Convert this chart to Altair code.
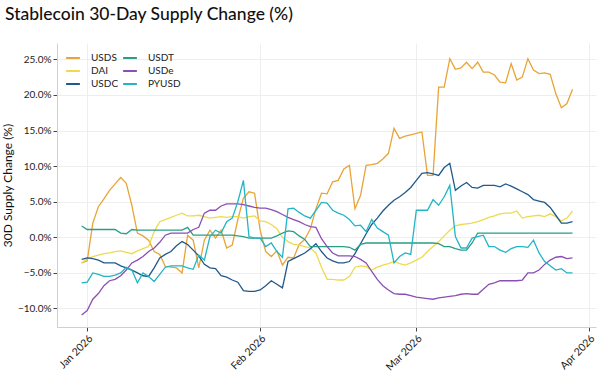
import altair as alt
import pandas as pd

start_date = "2025-12-31"
series_names = ["USDS", "DAI", "USDC", "USDT", "USDe", "PYUSD"]
series_colors = ["#E8A436", "#EEDA4E", "#21598C", "#2A9D86", "#8B4FB3", "#22B5C4"]
legend_order = ["USDS", "DAI", "USDC", "USDT", "USDe", "PYUSD"]

usds = [-3.6, -3.3, 2.0, 4.3, 5.4, 6.6, 7.5, 8.4, 7.6, 4.5, 0.6, 0.2, -0.4, -2.0, -2.4,
        -4.1, -4.2, -4.3, -5.0, 0.3, -0.4, -4.3, -0.4, 1.0, -0.1, 1.0, -1.5, -1.1, 2.5, 5.5,
        6.4, 6.2, 1.0, -2.0, -2.7, -1.9, -3.9, -2.8, -2.9, -1.0, -0.3, 1.2, 4.0, 6.2, 6.1,
        7.8, 8.0, 9.6, 10.1, 4.0, 5.9, 10.1, 10.2, 10.4, 11.0, 11.8, 15.3, 13.9, 14.2, 14.4,
        14.6, 14.8, 8.7, 8.7, 21.1, 21.1, 25.1, 23.6, 23.8, 24.6, 23.7, 24.6, 23.2, 23.2, 22.8,
        21.8, 21.7, 24.4, 22.1, 22.5, 25.1, 23.5, 23.0, 23.1, 22.9, 20.2, 18.2, 18.8, 20.8]

dai = [-3.6, -3.0, -2.7, -2.5, -2.3, -2.2, -2.0, -1.9, -2.1, -2.3, -1.9, -1.6, -1.3, 0.8, 2.2,
       2.5, 2.8, 3.1, 3.4, 3.0, 3.0, 3.1, 2.9, 2.7, 2.8, 2.9, 2.8, 2.9, 2.9, 2.7,
       2.9, 3.0, 2.3, 2.2, 1.8, 1.2, 0.0, -0.6, -1.0, -1.1, -1.3, -1.5, -2.2, -4.2, -5.9,
       -5.9, -6.0, -6.0, -5.5, -4.2, -4.0, -4.1, -4.6, -4.2, -3.9, -3.7, -3.4, -3.7, -3.9, -3.6,
       -3.2, -2.8, -2.0, -1.3, -0.6, 0.2, 1.0, 1.6, 1.8, 1.9, 2.0, 2.2, 2.5, 2.8, 3.0,
       3.3, 3.4, 3.4, 3.7, 2.7, 2.9, 3.0, 3.1, 2.9, 3.3, 2.9, 2.3, 2.7, 3.7]

usdc = [-3.1, -2.9, -3.0, -3.2, -3.6, -3.6, -3.6, -4.0, -4.3, -4.6, -5.0, -5.4, -5.5, -4.3, -2.9,
        -2.4, -2.0, -1.2, -0.6, -1.0, -1.8, -2.6, -3.8, -4.3, -4.4, -5.4, -5.6, -6.0, -6.3, -7.5,
        -7.6, -7.6, -7.4, -6.8, -6.1, -6.6, -7.1, -3.4, -3.0, -2.6, -2.2, -1.6, -0.9, -2.0, -2.9,
        -3.3, -3.6, -3.6, -3.4, -2.3, -0.9, 0.5, 1.8, 2.7, 3.7, 4.5, 5.2, 5.7, 6.3, 7.0,
        8.0, 9.0, 9.1, 8.9, 8.7, 9.8, 10.4, 6.6, 7.2, 7.7, 7.0, 6.9, 7.3, 7.3, 7.3,
        7.1, 7.5, 7.2, 6.8, 6.4, 6.0, 5.3, 5.1, 4.9, 4.2, 3.1, 2.0, 2.0, 2.2]

usdt = [1.6, 1.1, 1.1, 1.1, 1.1, 1.1, 1.1, 0.6, 0.5, 1.1, 1.0, 1.0, 1.0, 1.0, 1.0,
        1.0, 1.0, 1.0, 1.0, 1.4, 0.3, 0.3, 0.3, 0.3, 0.3, 0.3, 0.3, 0.3, 0.2, 0.1,
        -0.1, -0.1, -0.1, -0.1, -0.1, 0.2, 0.6, 0.9, 0.8, 0.2, -0.3, -1.3, -1.3, -1.3, -1.3,
        -1.3, -1.3, -1.3, -1.4, -1.8, -1.0, -0.8, -0.8, -0.8, -0.8, -0.8, -0.8, -0.8, -0.8, -0.8,
        -0.8, -0.8, -0.8, -0.8, -0.9, -1.3, -1.3, -1.6, -1.8, -1.8, -0.8, 0.6, 0.6, 0.6, 0.6,
        0.6, 0.6, 0.6, 0.6, 0.6, 0.6, 0.6, 0.6, 0.6, 0.6, 0.6, 0.6, 0.6, 0.6]

usde = [-10.9, -10.3, -8.7, -7.9, -6.8, -6.1, -5.9, -5.4, -4.6, -3.6, -3.2, -2.7, -2.0, -1.5, -0.7,
        0.3, 0.6, 0.6, 0.6, 0.6, 1.1, 1.4, 3.4, 3.8, 3.8, 4.4, 4.7, 4.7, 4.7, 4.6,
        4.4, 4.2, 4.1, 4.1, 3.9, 3.6, 3.2, 2.8, 2.5, 2.2, 1.8, 1.5, 1.4, -0.2, -1.3,
        -2.2, -2.6, -2.6, -2.6, -2.7, -3.1, -3.6, -4.8, -5.9, -6.8, -7.4, -7.9, -8.0, -8.0, -8.2,
        -8.4, -8.5, -8.6, -8.7, -8.5, -8.4, -8.3, -8.2, -8.0, -7.9, -8.0, -8.0, -7.3, -6.6, -6.4,
        -6.1, -6.1, -6.1, -6.1, -6.0, -5.0, -5.0, -4.6, -3.8, -3.2, -2.8, -2.7, -3.0, -2.9]

pyusd = [-6.4, -6.3, -5.0, -5.2, -5.5, -5.5, -5.3, -5.0, -4.2, -4.6, -6.4, -5.0, -5.5, -6.2, -5.2,
         -4.2, -4.0, -4.0, -4.0, -4.3, -4.5, -2.5, -3.2, 0.1, 1.0, 0.6, 2.2, 2.7, 5.0, 8.0,
         0.1, -0.1, -0.1, -1.3, -0.8, -2.0, -2.8, 4.0, 4.1, 3.5, 3.0, 2.7, 3.8, 4.9, 4.8,
         3.8, 3.4, 3.1, 2.5, 1.6, 1.7, 0.8, 2.5, 1.3, 0.8, 0.3, -3.6, -2.7, -2.2, -2.4,
         3.8, 3.8, 3.8, 5.3, 4.5, 5.7, 7.3, 0.1, -1.5, -1.5, -0.1, 0.1, 0.3, -1.3, -1.3,
         -1.8, -2.1, -1.6, -1.3, -1.3, -1.4, -0.4, -2.2, -3.4, -4.0, -4.6, -4.4, -5.0, -5.0]

y_ticks = [-10, -5, 0, 5, 10, 15, 20, 25]
month_ticks = [(2026, 1), (2026, 2), (2026, 3), (2026, 4)]

all_series = [usds, dai, usdc, usdt, usde, pyusd]
n = len(usds)
for s in all_series:
    assert len(s) == n, len(s)
dates = pd.date_range(start_date, periods=n, freq="D").strftime("%Y-%m-%d")
rows = []
for name, vals in zip(series_names, all_series):
    for d, v in zip(dates, vals):
        rows.append({"date": d, "series": name, "value": v})
df = pd.DataFrame(rows)

color_map = dict(zip(series_names, series_colors))
FONT = "Lato"

chart = alt.Chart(df).mark_line(strokeWidth=1.3).encode(
    x=alt.X(
        "date:T",
        scale=alt.Scale(
            type="utc",
            domain=[alt.DateTime(year=2025, month=12, date=26, hours=14, utc=True),
                    alt.DateTime(year=2026, month=4, date=2, hours=5, utc=True)],
        ),
        axis=alt.Axis(
            values=[alt.DateTime(year=y, month=m, date=1, utc=True) for y, m in month_ticks],
            format="%b %Y", labelAngle=-45, title=None, labelFontSize=10.5,
        ),
    ),
    y=alt.Y(
        "value:Q",
        scale=alt.Scale(domain=[-12.6, 27.3], nice=False, zero=False),
        axis=alt.Axis(values=y_ticks, labelExpr="format(datum.value, '.1f') + '%'",
                      title="30D Supply Change (%)", titlePadding=3, titleFontSize=12),
    ),
    color=alt.Color(
        "series:N",
        sort=legend_order,
        scale=alt.Scale(domain=legend_order, range=[color_map[s] for s in legend_order]),
        legend=alt.Legend(
            title=None, orient="none", legendX=8, legendY=7, columns=2,
            symbolType="stroke", symbolSize=190, symbolStrokeWidth=2,
            labelFontSize=10, labelFont=FONT, labelColor="#222",
            columnPadding=0, rowPadding=0, labelOffset=10,
        ),
    ),
).properties(
    width=539, height=284,
    autosize=alt.AutoSizeParams(type="none"),
    padding={"left": 57, "top": 43, "right": 4, "bottom": 50},
    title=alt.TitleParams(
        "Stablecoin 30-Day Supply Change (%)", anchor="start", frame="group",
        fontSize=17.5, font=FONT, fontWeight=500, color="#111", dx=-52, offset=20,
    ),
).configure_view(strokeWidth=0).configure_axis(
    labelFont=FONT, titleFont=FONT, labelFontSize=10, titleFontSize=11,
    labelColor="#222", titleColor="#111", titleFontWeight="normal",
    gridColor="#eeeeee", domainColor="#d0d0d0", tickColor="#444", tickSize=4,
)

chart.save("out.html", embed_options={"renderer": "svg", "actions": False})
